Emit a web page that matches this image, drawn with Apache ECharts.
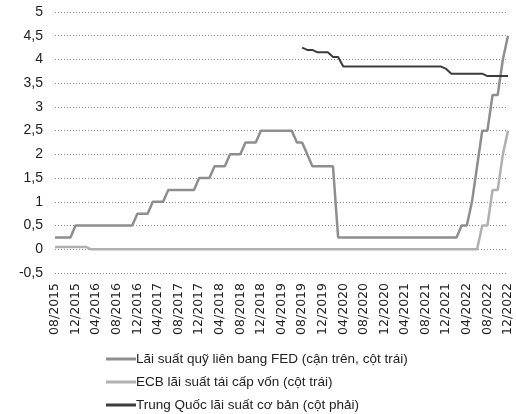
<!DOCTYPE html>
<html>
<head>
<meta charset="utf-8">
<script src="https://cdn.jsdelivr.net/npm/echarts@6/dist/echarts.min.js"></script>
<style>
  html, body { margin: 0; padding: 0; background: #fff; }
  #chart { width: 516px; height: 414px; }
</style>
</head>
<body>
<div id="chart"></div>
<script>
// Month categories, 08/2015 .. 12/2022
const startYear = 2015, startMonth = 8, endYear = 2022, endMonth = 12;
const months = [];
for (let y = startYear, m = startMonth; y < endYear || (y === endYear && m <= endMonth); ) {
  months.push((m < 10 ? '0' + m : '' + m) + '/' + y);
  m++; if (m > 12) { m = 1; y++; }
}

// FED funds target, upper bound (%), month-end
const fedRate = [
  0.25, 0.25, 0.25, 0.25, 0.5,                                  // 2015 (08-12)
  0.5, 0.5, 0.5, 0.5, 0.5, 0.5, 0.5, 0.5, 0.5, 0.5, 0.5, 0.75,  // 2016
  0.75, 0.75, 1.0, 1.0, 1.0, 1.25, 1.25, 1.25, 1.25, 1.25, 1.25, 1.5, // 2017
  1.5, 1.5, 1.75, 1.75, 1.75, 2.0, 2.0, 2.0, 2.25, 2.25, 2.25, 2.5,   // 2018
  2.5, 2.5, 2.5, 2.5, 2.5, 2.5, 2.25, 2.25, 2.0, 1.75, 1.75, 1.75,    // 2019
  1.75, 1.75, 0.25, 0.25, 0.25, 0.25, 0.25, 0.25, 0.25, 0.25, 0.25, 0.25, // 2020
  0.25, 0.25, 0.25, 0.25, 0.25, 0.25, 0.25, 0.25, 0.25, 0.25, 0.25, 0.25, // 2021
  0.25, 0.25, 0.5, 0.5, 1.0, 1.75, 2.5, 2.5, 3.25, 3.25, 4.0, 4.5     // 2022
];

// ECB main refinancing rate (%), month-end
const ecbRate = [
  0.05, 0.05, 0.05, 0.05, 0.05,                                 // 2015 (08-12)
  0.05, 0.05, 0, 0, 0, 0, 0, 0, 0, 0, 0, 0,                     // 2016
  0, 0, 0, 0, 0, 0, 0, 0, 0, 0, 0, 0,                           // 2017
  0, 0, 0, 0, 0, 0, 0, 0, 0, 0, 0, 0,                           // 2018
  0, 0, 0, 0, 0, 0, 0, 0, 0, 0, 0, 0,                           // 2019
  0, 0, 0, 0, 0, 0, 0, 0, 0, 0, 0, 0,                           // 2020
  0, 0, 0, 0, 0, 0, 0, 0, 0, 0, 0, 0,                           // 2021
  0, 0, 0, 0, 0, 0, 0.5, 0.5, 1.25, 1.25, 2.0, 2.5              // 2022
];

// China 1-year loan prime rate (%), from 08/2019
const chinaStart = '08/2019';
const chinaRate = [
  4.25, 4.20, 4.20, 4.15, 4.15,                                       // 2019 (08-12)
  4.15, 4.05, 4.05, 3.85, 3.85, 3.85, 3.85, 3.85, 3.85, 3.85, 3.85, 3.85, // 2020
  3.85, 3.85, 3.85, 3.85, 3.85, 3.85, 3.85, 3.85, 3.85, 3.85, 3.85, 3.80, // 2021
  3.70, 3.70, 3.70, 3.70, 3.70, 3.70, 3.70, 3.65, 3.65, 3.65, 3.65, 3.65  // 2022
];

const names = [
  'Lãi suất quỹ liên bang FED (cận trên, cột trái)',
  'ECB lãi suất tái cấp vốn (cột trái)',
  'Trung Quốc lãi suất cơ bản (cột phải)'
];
const colors = ['#8e8e8e', '#b0b0b0', '#3c3c3c'];

const chinaOffset = months.indexOf(chinaStart);
const chinaData = chinaRate.map((v, i) => [months[chinaOffset + i], v]);

const fontFamily = '"Liberation Sans", Arial, sans-serif';
const chart = echarts.init(document.getElementById('chart'), null, { renderer: 'canvas' });

const yAxisBase = {
  type: 'value',
  min: -0.5,
  max: 5,
  interval: 0.5
};

chart.setOption({
  animation: false,
  backgroundColor: '#fff',
  grid: { left: 55, right: 8, top: 12, bottom: 141 },
  legend: {
    orient: 'vertical',
    left: 106,
    top: 352,
    height: 80,
    padding: 0,
    itemWidth: 30,
    itemHeight: 3,
    itemGap: 9,
    icon: 'rect',
    textStyle: { fontFamily, fontSize: 13.5, color: '#222', padding: [0, 0, 0, -5] },
    data: [
      { name: names[0] },
      { name: names[1] },
      { name: names[2], itemStyle: { color: colors[2] } }
    ]
  },
  xAxis: {
    type: 'category',
    boundaryGap: false,
    data: months,
    axisLine: { show: false },
    axisTick: { show: false },
    axisLabel: {
      interval: 3,
      rotate: 90,
      margin: 10,
      fontFamily: '"DejaVu Sans", sans-serif',
      fontSize: 12.5,
      color: '#222'
    },
    splitLine: { show: false }
  },
  yAxis: [
    Object.assign({}, yAxisBase, {
      axisLine: { show: false },
      axisTick: { show: false },
      axisLabel: {
        margin: 12,
        fontFamily,
        fontSize: 14,
        color: '#222',
        formatter: v => String(Math.round(v * 10) / 10).replace('.', ',')
      },
      splitLine: { lineStyle: { type: [1, 2], color: '#8a8a8a', width: 1 } }
    }),
    Object.assign({}, yAxisBase, { show: false })
  ],
  series: [
    {
      name: names[0], type: 'line', yAxisIndex: 0, data: fedRate,
      showSymbol: false, lineStyle: { color: colors[0], width: 2.5 },
      itemStyle: { color: colors[0] }
    },
    {
      name: names[1], type: 'line', yAxisIndex: 0, data: ecbRate,
      showSymbol: false, lineStyle: { color: colors[1], width: 2.5 },
      itemStyle: { color: colors[1] }
    },
    {
      name: names[2], type: 'line', yAxisIndex: 1, data: chinaData,
      showSymbol: false, lineStyle: { color: colors[2], width: 2 },
      itemStyle: { color: colors[2] }
    }
  ]
});
</script>
</body>
</html>
